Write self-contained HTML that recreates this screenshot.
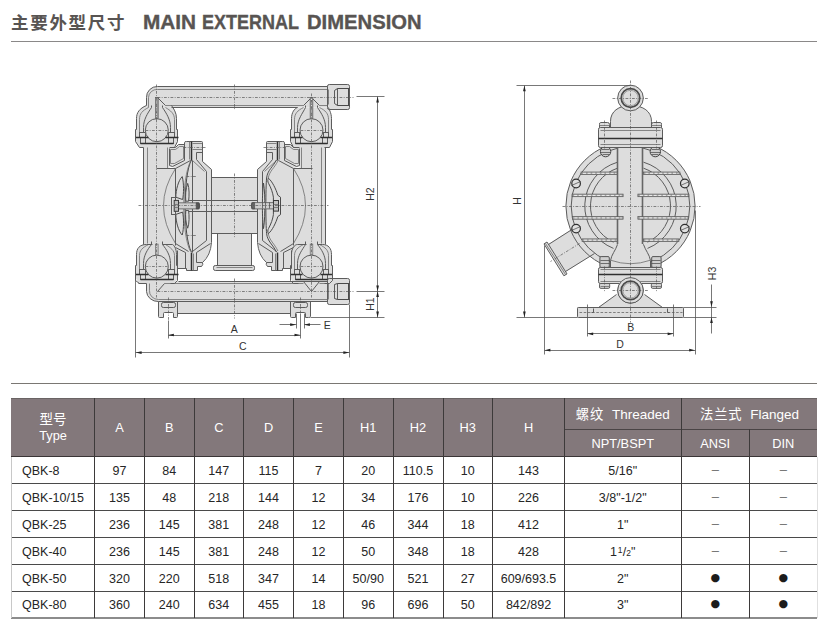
<!DOCTYPE html>
<html lang="zh-CN">
<head>
<meta charset="utf-8">
<title>主要外型尺寸 MAIN EXTERNAL DIMENSION</title>
<style>
html,body{margin:0;padding:0;background:#fff}
body{width:830px;height:634px;position:relative;overflow:hidden;font-family:"Liberation Sans","Noto Sans CJK SC",sans-serif}
.title{position:absolute;left:11px;top:8px;height:28px;line-height:28px;white-space:nowrap;color:#585452;font-weight:bold}
.title .zh{font-family:"Noto Sans CJK SC","Liberation Sans",sans-serif;font-size:17.5px;letter-spacing:1.7px;font-weight:bold;position:absolute;left:0;top:0}
.title .en{font-size:19.6px;position:absolute;top:0px;font-weight:bold;display:inline-block;transform-origin:0 50%;-webkit-text-stroke:0.35px #585452}
.rule{position:absolute;left:11px;width:806px;height:1px}
.tbl{position:absolute;left:0;top:0;width:830px;height:634px}
.hbg{position:absolute;left:11px;top:398px;width:806px;height:59px;background:#83787b}
.c{position:absolute;text-align:center;font-size:12.5px;white-space:nowrap;box-sizing:border-box}
.c.h{color:#fff;font-size:12.8px}
.c.d{color:#262626}
.c.first{text-align:left;padding-left:10.5px}
.two{position:absolute;left:0;right:0;top:13.4px;line-height:15.5px}
.two .zh{position:relative;top:-0.7px}
.zh{font-family:"Noto Sans CJK SC","Liberation Sans",sans-serif}
.c.h .zh{font-size:13.5px}
.c.h .hz{font-size:13.3px;letter-spacing:0.9px;margin-right:-0.9px;position:relative;top:0.6px}
.c.h .he{font-size:13.5px}
.ln{position:absolute}
.dot{font-size:11px;font-family:"DejaVu Sans",sans-serif;color:#1c1c1c;position:relative;top:-1.6px}
.dash{font-size:13px;color:#707070;position:relative;top:-0.8px}
.fr{font-size:8.5px;position:relative;top:-2.6px;margin-left:0.8px;margin-right:0.2px}
.fr2{font-size:8.5px;margin-right:0.2px}
svg{position:absolute;left:0;top:0}
svg text{font-family:"Liberation Sans",sans-serif;font-size:10.5px;fill:#333}
.f{fill:#dddddd;stroke:none}
.s{fill:none;stroke:#5c5c5c;stroke-width:1}
.fs2{fill:#dddddd;stroke:#5c5c5c;stroke-width:1}
.k{fill:none;stroke:#303030;stroke-width:1.5}
.t{fill:none;stroke:#6c6c6c;stroke-width:0.8}
.cl{fill:none;stroke:#555;stroke-width:0.7;stroke-dasharray:2.8 1.4 0.9 1.4}
.cl2{fill:none;stroke:#555;stroke-width:0.7;stroke-dasharray:2.8 1.4 0.9 1.4}
.fs3{fill:#dddddd;stroke:#4a4a4a;stroke-width:1}
.s3{fill:none;stroke:#4a4a4a;stroke-width:1}
.s2{fill:none;stroke:#666;stroke-width:1.6}
.t2{fill:none;stroke:#444;stroke-width:0.7}
.ds{fill:none;stroke:#666;stroke-width:0.8;stroke-dasharray:2.6 1.6}
.wd{fill:none;stroke:#e6e6e6;stroke-width:1;stroke-dasharray:1.6 1.4}
.dm{fill:none;stroke:#555;stroke-width:0.8}
.ar{fill:#222;stroke:none}
</style>
</head>
<body>
<div class="title"><span class="zh">主要外型尺寸</span><span class="en" style="left:131.6px;transform:scaleX(1.06)">MAIN</span> <span class="en" style="left:191.3px;transform:scaleX(0.918)">EXTERNAL</span> <span class="en" style="left:295.6px;transform:scaleX(1.032)">DIMENSION</span></div>
<div class="rule" style="top:41px;background:#8a8888"></div>
<div class="rule" style="top:383px;background:#7a7773"></div>
<svg width="830" height="634" viewBox="0 0 830 634"><path class="f" d="M146.3,108 V97.3 A10.7,10.7 0 0 1 157,86.6 H327.3 V86 Q327.3,84.3 329,84.3 H347.5 Q349.2,84.3 349.2,86 V108 Q349.2,109.6 347.5,109.6 H327.3 V107.4 H150 Z"/><path class="f" d="M146.7,282 V291 A11.6,10.6 0 0 0 158.3,301.6 H327.3 V304.2 H347.5 Q349.2,304.2 349.2,302.6 V280.5 Q349.2,278.9 347.5,278.9 H327.3 V281 H146.7 Z"/><path class="f" d="M158.5,301 H310.1 V316 Q310.1,317.2 309,317.2 H305 V312.8 H295.6 V317.2 H291.6 Q290.5,317.2 290.5,316 V313.3 H177.8 V316 Q177.8,317.2 176.7,317.2 H173.4 V312.8 H163.3 V317.2 H159.6 Q158.5,317.2 158.5,316 Z"/><path class="f" d="M217.5,233 H251.1 V265.1 H253 Q254.6,265.1 254.6,267 V268.5 Q254.6,270.2 253,270.2 H215.6 Q213.9,270.2 213.9,268.5 V267 Q213.9,265.1 215.6,265.1 H217.5 Z"/><path class="f" d="M211.3,177 H257.3 V233.7 H211.3 Z"/><path class="f" d="M143.8,140 H169.6 V168.3 H175.6 V245 H143.8 Z"/><path class="f" d="M169.3,147.5 H175.1 L178.4,144.4 H184.5 V142.6 Q184.5,141.1 186,141.1 H201.1 Q202.6,141.1 202.6,142.6 V161.5 L211.5,169 V242.2 Q210,255 202,262.5 Q203.6,264.6 201.6,266.8 H197.6 V270.4 H186 V268.3 H177.4 V256 H170 V243 H175.2 V168.3 L169.3,166 Z"/><g transform="matrix(-1 0 0 1 469 0)"><path class="f" d="M143.8,140 H169.6 V168.3 H175.6 V245 H143.8 Z"/><path class="f" d="M169.3,147.5 H175.1 L178.4,144.4 H184.5 V142.6 Q184.5,141.1 186,141.1 H201.1 Q202.6,141.1 202.6,142.6 V161.5 L211.5,169 V242.2 Q210,255 202,262.5 Q203.6,264.6 201.6,266.8 H197.6 V270.4 H186 V268.3 H177.4 V256 H170 V243 H175.2 V168.3 L169.3,166 Z"/></g><path class="f" d="M135.7,141.7 V129.4 H136.8 V118.2 C136.8,112.2 139.8,108.2 146.3,105 H171.2 C173.8,108.2 176.8,112.2 176.8,118.2 V129.4 H177.9 V141.7 L174.5,147.4 H139.1 Z"/><path class="f" d="M135.7,278.1 V265.8 H136.8 V254.6 C136.8,248.6 139.8,244.6 146.7,243.6 H172 C173.8,244.6 176.8,248.6 176.8,254.6 V265.8 H177.9 V278.1 L174.5,283.8 H139.1 Z"/><path class="f" d="M290.4,141.7 V129.4 H291.5 V118.2 C291.5,112.2 294.5,108.2 297.3,107.4 H328.3 C328.5,108.2 331.5,112.2 331.5,118.2 V129.4 H332.6 V141.7 L329.2,147.4 H293.8 Z"/><path class="f" d="M290.4,278.1 V265.8 H291.5 V254.6 C291.5,248.6 294.5,244.6 297,243.6 H322.3 C328.5,244.6 331.5,248.6 331.5,254.6 V265.8 H332.6 V278.1 L329.2,283.8 H293.8 Z"/><path class="s" d="M146.5 105.5V97.5A10.7 10.7 0 0 1 157.5 86.5H327.5"/><path class="t" d="M148.5 107.5V97.5A8.3 8.3 0 0 1 157.5 89.5H327.5"/><path class="s" d="M171.5 107.5H297.5"/><path class="t" d="M165.5 105.5H303.5M319.5 105.5H327.5"/><path class="s" d="M157.5 97.5L165.5 105.5M311.5 97.5L303.5 105.5M311.5 97.5L319.5 105.5"/><rect class="s" x="327.5" y="84.5" width="22" height="25" rx="1.8"/><path class="t" d="M328.5 89.5V104.5"/><path class="s" d="M334.5 90.5V103.5M337.5 88.5V105.5"/><path class="s3" d="M334.5 90.5L337.5 88.5H349.5M334.5 103.5L337.5 105.5H349.5"/><path class="s3" d="M348.5 88.5V105.5"/><rect class="s" x="327.5" y="278.5" width="22" height="26" rx="1.8"/><path class="t" d="M328.5 283.5V299.5"/><path class="s" d="M334.5 284.5V298.5M337.5 283.5V299.5"/><path class="s3" d="M334.5 284.5L337.5 283.5H349.5M334.5 298.5L337.5 299.5H349.5"/><path class="s3" d="M348.5 283.5V299.5"/><path class="s" d="M138.5 283.5H146.5V291.5A11.6 10.6 0 0 0 158.5 301.5H327.5"/><path class="t" d="M149.5 283.5V290.5A9 8.3 0 0 0 158.5 299.5H327.5"/><path class="s" d="M178.5 281.5H327.5"/><path class="t" d="M164.5 283.5H303.5M319.5 283.5H327.5"/><path class="s" d="M157.5 291.5L164.5 283.5M303.5 281.5L311.5 291.5L319.5 281.5"/><path class="s" d="M177.5 313.5H290.5"/><path class="s" d="M158.5 301.5V316.5Q158.5 317.5 159.5 317.5H163.5V313.5Q163.5 312.5 164.5 312.5H172.5Q173.5 312.5 173.5 313.5V317.5H176.5Q177.5 317.5 177.5 316.5V301.5"/><rect class="s" x="161.5" y="302.5" width="14" height="5" rx="1.8"/><path class="s" d="M290.5 301.5V316.5Q290.5 317.5 291.5 317.5H295.5V313.5Q295.5 312.5 296.5 312.5H304.5Q305.5 312.5 305.5 313.5V317.5H308.5Q310.5 317.5 310.5 316.5V301.5"/><rect class="s" x="293.5" y="302.5" width="14" height="5" rx="1.8"/><path class="s" d="M217.5 233.5V265.5M251.5 233.5V265.5"/><rect class="s" x="213.5" y="265.5" width="41" height="5" rx="1.8"/><path class="t" d="M216.5 267.5H252.5"/><path class="s" d="M211.5 177.5H257.5M211.5 233.5H257.5"/><path class="s" d="M188.5 200.5H257.5M188.5 211.5H257.5"/><path class="s" d="M143.5 147.5V244.5"/><path class="t" d="M147.5 147.5V243.5"/><path class="s" d="M169.5 148.5V165.5"/><path class="t" d="M167.5 147.5V168.5"/><path class="s" d="M156.5 168.5H175.5V245.5"/><path class="t" d="M175.5 168.5Q151.5 205.5 175.5 243.5"/><path class="s" d="M169.5 147.5H175.5L178.5 144.5H184.5"/><path class="t" d="M170.5 149.5H175.5L179.5 146.5H183.5V158.5L174.5 163.5H170.5Z"/><path class="s" d="M169.5 165.5L172.5 166.5L184.5 160.5"/><path class="s" d="M175.5 168.5L190.5 160.5"/><path class="s" d="M184.5 160.5V142.5Q184.5 141.5 186.5 141.5H201.5Q202.5 141.5 202.5 142.5V161.5L211.5 169.5V242.5Q210.5 255.5 202.5 262.5Q203.5 264.5 201.5 266.5H197.5V270.5H186.5V268.5H177.5"/><path class="k" d="M191.5 141.5V160.5"/><path class="t" d="M189.5 141.5V159.5"/><path class="t" d="M192.5 143.5H202.5M192.5 149.5H202.5"/><path class="s" d="M202.5 152.5H196.5V159.5L206.5 171.5V240.5L192.5 251.5"/><path class="s" d="M210.5 243.5L196.5 252.5V262.5H202.5"/><path class="t" d="M192.5 160.5L204.5 171.5"/><path class="s" d="M175.5 243.5L188.5 251.5M175.5 247.5L185.5 252.5V268.5M177.5 250.5V268.5"/><path class="k" d="M191.5 252.5V270.5"/><path class="t" d="M193.5 253.5V270.5"/><path class="cl2" d="M183.5 147.5H205.5"/><g transform="matrix(-1 0 0 1 469 0)"><path class="s" d="M143.5 147.5V244.5"/><path class="t" d="M147.5 147.5V243.5"/><path class="s" d="M169.5 148.5V165.5"/><path class="t" d="M167.5 147.5V168.5"/><path class="s" d="M156.5 168.5H175.5V245.5"/><path class="t" d="M175.5 168.5Q151.5 205.5 175.5 243.5"/><path class="s" d="M169.5 147.5H175.5L178.5 144.5H184.5"/><path class="t" d="M170.5 149.5H175.5L179.5 146.5H183.5V158.5L174.5 163.5H170.5Z"/><path class="s" d="M169.5 165.5L172.5 166.5L184.5 160.5"/><path class="s" d="M175.5 168.5L190.5 160.5"/><path class="s" d="M184.5 160.5V142.5Q184.5 141.5 186.5 141.5H201.5Q202.5 141.5 202.5 142.5V161.5L211.5 169.5V242.5Q210.5 255.5 202.5 262.5Q203.5 264.5 201.5 266.5H197.5V270.5H186.5V268.5H177.5"/><path class="k" d="M191.5 141.5V160.5"/><path class="t" d="M189.5 141.5V159.5"/><path class="t" d="M192.5 143.5H202.5M192.5 149.5H202.5"/><path class="s" d="M202.5 152.5H196.5V159.5L206.5 171.5V240.5L192.5 251.5"/><path class="s" d="M210.5 243.5L196.5 252.5V262.5H202.5"/><path class="t" d="M192.5 160.5L204.5 171.5"/><path class="s" d="M175.5 243.5L188.5 251.5M175.5 247.5L185.5 252.5V268.5M177.5 250.5V268.5"/><path class="k" d="M191.5 252.5V270.5"/><path class="t" d="M193.5 253.5V270.5"/><path class="cl2" d="M183.5 147.5H205.5"/></g><path class="s" d="M192.5 160.5V252.5"/><path class="s3" d="M191.4,160 C183,176 183,236 191.4,252"/><path class="t" d="M190.5 161.5C181.5 178.5 181.5 234.5 190.5 251.5"/><path class="fs3" d="M182.2,176.6 C178.3,180.5 175.9,190 175.8,197.2 L182.6,199.5 C183.8,194 184,183 182.2,176.6 Z"/><path class="fs3" d="M182.2,235 C178.3,231.1 175.9,221.6 175.8,214.4 L182.6,212.1 C183.8,217.6 184,228.6 182.2,235 Z"/><path class="fs3" d="M187.7,183.4 C189.4,188 189.3,196 188.6,201.2 L185.8,201.2 C185.3,196 185.6,188.4 187.7,183.4 Z"/><path class="fs3" d="M187.7,228.2 C189.4,223.6 189.3,215.6 188.6,210.4 L185.8,210.4 C185.3,215.6 185.6,223.2 187.7,228.2 Z"/><rect class="fs2" x="171.5" y="197.5" width="4" height="17" rx="0"/><rect x="178.5" y="202.8" width="21" height="6.1" rx="0.5" fill="#cfcfcf" stroke="#555" stroke-width="0.8"/><path d="M196.2,202.8 H198.5 Q201.2,205.8 198.5,208.9 H196.2 Z" fill="#555" stroke="#444" stroke-width="0.6"/><rect x="174.2" y="200.4" width="4.3" height="10.9" fill="#bdbdbd" stroke="#3a3a3a" stroke-width="1"/><path class="t" d="M174.5 204.5H178.5M174.5 207.5H178.5"/><path class="cl2" d="M186.5 176.5H196.5M186.5 235.5H196.5"/><path class="s3" d="M276.4,160 C273,167 267.5,170 266.6,178 C265.6,188 265.6,223 266.6,233.6 C267.5,241.6 273,244.6 276.4,252"/><path class="t" d="M277.9,161 C274.6,168 269.2,171 268.2,178.6 M268.2,233 C269.2,240.6 274.6,243.6 277.9,251"/><path class="fs3" d="M268.4,178.2 C272,181 276,189 277.8,195.2 L280.5,197.2 V214.6 L277.8,216.6 C276,222.8 272,230.8 268.4,233.6 C267.6,232 267.6,230 268.6,228.4 C271,224 272.8,219 273.4,214.6 V197.2 C272.8,192.8 271,187.8 268.6,183.4 C267.6,181.8 267.6,179.8 268.4,178.2 Z"/><path class="fs3" d="M263.5,183 C264.7,190 264.9,200 264.7,205.8 C264.9,211.6 264.7,221.6 263.5,228.6 C262.5,221 262.3,211 262.5,205.8 C262.3,200.6 262.5,190.6 263.5,183 Z"/><rect x="251.5" y="202.6" width="22" height="6.3" rx="0.5" fill="#cfcfcf" stroke="#555" stroke-width="0.8"/><path d="M254.6,202.6 H252.6 Q249.8,205.8 252.6,208.9 H254.6 Z" fill="#666" stroke="#444" stroke-width="0.6"/><path class="t2" d="M262.5 202.5V208.5M265.5 202.5V208.5M269.5 202.5V208.5"/><rect x="273.5" y="200.5" width="5" height="10.6" fill="#c4c4c4" stroke="#3a3a3a" stroke-width="1"/><path class="t" d="M273.5 204.5H278.5M273.5 207.5H278.5"/><path class="s" d="M135.5 137.5V129.5H136.5V118.5C136.5 112.5 139.5 108.5 146.5 105.5"/><path class="s" d="M177.5 137.5V129.5H176.5V118.5C176.5 112.5 173.5 108.5 171.5 105.5"/><path class="t" d="M139.5 132.5V119.5C139.5 113.5 142.5 110.5 148.5 107.5"/><path class="s" d="M143.5 132.5V127.5C143.5 119.5 147.5 113.5 151.5 107.5L151.5 105.5"/><rect class="s" x="139.5" y="132.5" width="6" height="5" rx="0"/><rect class="s" x="140.5" y="137.5" width="5" height="6" rx="0"/><path class="s" d="M135.5 137.5V141.5L139.5 147.5H143.5"/><path class="t" d="M174.5 132.5V119.5C174.5 113.5 170.5 110.5 165.5 107.5"/><path class="s" d="M170.5 132.5V127.5C170.5 119.5 166.5 113.5 162.5 107.5L162.5 105.5"/><rect class="s" x="168.5" y="132.5" width="6" height="5" rx="0"/><rect class="s" x="168.5" y="137.5" width="5" height="6" rx="0"/><path class="s" d="M177.5 137.5V141.5L174.5 147.5H170.5"/><circle class="fs2" cx="156.8" cy="130.2" r="11.5"/><path class="k" d="M135.5 137.5H148.5M165.5 137.5H178.5"/><path class="k" d="M140.5 143.5H173.5"/><rect x="155.4" y="97.4" width="2.8" height="21" fill="#9a9a9a" stroke="#555" stroke-width="0.6"/><path class="wd" d="M156.5 98.5V118.5"/><path class="s" d="M290.5 137.5V129.5H291.5V118.5C291.5 112.5 294.5 108.5 297.5 107.5"/><path class="s" d="M332.5 137.5V129.5H331.5V118.5C331.5 112.5 328.5 108.5 328.5 107.5"/><path class="t" d="M294.5 132.5V119.5C294.5 113.5 297.5 110.5 303.5 107.5"/><path class="s" d="M297.5 132.5V127.5C297.5 119.5 302.5 113.5 305.5 107.5L305.5 105.5"/><rect class="s" x="294.5" y="132.5" width="5" height="5" rx="0"/><rect class="s" x="295.5" y="137.5" width="5" height="6" rx="0"/><path class="s" d="M290.5 137.5V141.5L293.5 147.5H298.5"/><path class="t" d="M328.5 132.5V119.5C328.5 113.5 325.5 110.5 319.5 107.5"/><path class="s" d="M325.5 132.5V127.5C325.5 119.5 321.5 113.5 317.5 107.5L317.5 105.5"/><rect class="s" x="323.5" y="132.5" width="5" height="5" rx="0"/><rect class="s" x="322.5" y="137.5" width="5" height="6" rx="0"/><path class="s" d="M332.5 137.5V141.5L329.5 147.5H324.5"/><circle class="fs2" cx="311.5" cy="130.2" r="11.5"/><path class="k" d="M290.5 137.5H302.5M320.5 137.5H332.5"/><path class="k" d="M295.5 143.5H327.5"/><rect x="310.1" y="97.4" width="2.8" height="21" fill="#9a9a9a" stroke="#555" stroke-width="0.6"/><path class="wd" d="M311.5 98.5V118.5"/><path class="s" d="M135.5 274.5V265.5H136.5V254.5C136.5 248.5 139.5 244.5 146.5 244.5"/><path class="s" d="M177.5 274.5V265.5H176.5V254.5C176.5 248.5 173.5 244.5 172.5 244.5"/><path class="t" d="M139.5 269.5V255.5C139.5 250.5 142.5 247.5 148.5 244.5"/><path class="s" d="M143.5 269.5V263.5C143.5 255.5 147.5 249.5 151.5 244.5L151.5 241.5"/><rect class="s" x="139.5" y="269.5" width="6" height="5" rx="0"/><rect class="s" x="140.5" y="274.5" width="5" height="5" rx="0"/><path class="s" d="M135.5 274.5V280.5L139.5 283.5H143.5"/><path class="t" d="M174.5 269.5V255.5C174.5 250.5 170.5 247.5 165.5 244.5"/><path class="s" d="M170.5 269.5V263.5C170.5 255.5 166.5 249.5 162.5 244.5L162.5 241.5"/><rect class="s" x="168.5" y="269.5" width="6" height="5" rx="0"/><rect class="s" x="168.5" y="274.5" width="5" height="5" rx="0"/><path class="s" d="M177.5 274.5V280.5L174.5 283.5H170.5"/><circle class="fs2" cx="156.8" cy="266.6" r="11.5"/><path class="k" d="M135.5 274.5H148.5M165.5 274.5H178.5"/><path class="k" d="M140.5 279.5H173.5"/><rect x="155.5" y="244.1" width="2.6" height="10.8" fill="#cfcfcf" stroke="#666" stroke-width="0.7"/><path class="s" d="M290.5 274.5V265.5H291.5V254.5C291.5 248.5 294.5 244.5 297.5 244.5"/><path class="s" d="M332.5 274.5V265.5H331.5V254.5C331.5 248.5 328.5 244.5 322.5 244.5"/><path class="t" d="M294.5 269.5V255.5C294.5 250.5 297.5 247.5 303.5 244.5"/><path class="s" d="M297.5 269.5V263.5C297.5 255.5 302.5 249.5 305.5 244.5L305.5 241.5"/><rect class="s" x="294.5" y="269.5" width="5" height="5" rx="0"/><rect class="s" x="295.5" y="274.5" width="5" height="5" rx="0"/><path class="s" d="M290.5 274.5V280.5L293.5 283.5H298.5"/><path class="t" d="M328.5 269.5V255.5C328.5 250.5 325.5 247.5 319.5 244.5"/><path class="s" d="M325.5 269.5V263.5C325.5 255.5 321.5 249.5 317.5 244.5L317.5 241.5"/><rect class="s" x="323.5" y="269.5" width="5" height="5" rx="0"/><rect class="s" x="322.5" y="274.5" width="5" height="5" rx="0"/><path class="s" d="M332.5 274.5V280.5L329.5 283.5H324.5"/><circle class="fs2" cx="311.5" cy="266.6" r="11.5"/><path class="k" d="M290.5 274.5H302.5M320.5 274.5H332.5"/><path class="k" d="M295.5 279.5H327.5"/><rect x="310.2" y="244.1" width="2.6" height="10.8" fill="#cfcfcf" stroke="#666" stroke-width="0.7"/><path class="s" d="M146.5 244.5H152.5M162.5 244.5H172.5M297.5 244.5H306.5M317.5 244.5H322.5"/><path class="cl" d="M138.5 205.5L328.5 205.5"/><path class="cl" d="M234.5 84.5V110.5M234.5 173.5V238.5M234.5 278.5V318.5"/><path class="cl" d="M157.5 97.5H353.5M157.5 291.5H353.5"/><path class="cl" d="M156.5 84.5V119.5M156.5 119.5V297.5"/><path class="cl" d="M311.5 93.5V297.5"/><path class="cl2" d="M145.5 130.5H167.5"/><path class="cl2" d="M145.5 266.5H167.5"/><path class="cl2" d="M300.5 130.5H322.5"/><path class="cl2" d="M300.5 266.5H322.5"/><path class="cl2" d="M168.5 297.5V320.5M300.5 297.5V313.5"/><path class="dm" d="M356.5 96.5H384.5M356.5 291.5H384.5M310.5 317.5H384.5"/><path class="dm" d="M377.5 96.5V317.5"/><polygon class="ar" points="377.6,96.6 376.25,102.4 378.95,102.4"/><polygon class="ar" points="377.6,291.2 376.25,285.4 378.95,285.4"/><polygon class="ar" points="377.6,291.2 376.25,297 378.95,297"/><polygon class="ar" points="377.6,317.4 376.25,311.6 378.95,311.6"/><text x="374.1" y="194" text-anchor="middle" transform="rotate(-90 374.1 194)">H2</text><text x="374.1" y="304" text-anchor="middle" transform="rotate(-90 374.1 304)">H1</text><path class="dm" d="M168.5 320.5V338.5M300.5 313.5V338.5M168.5 335.5H300.5"/><polygon class="ar" points="168.1,335 173.9,333.65 173.9,336.35"/><polygon class="ar" points="300.3,335 294.5,333.65 294.5,336.35"/><text x="234.3" y="333" text-anchor="middle">A</text><path class="dm" d="M135.5 268.5V357.5M349.5 304.5V357.5M135.5 352.5H349.5"/><polygon class="ar" points="135.8,352.6 141.6,351.25 141.6,353.95"/><polygon class="ar" points="349.2,352.6 343.4,351.25 343.4,353.95"/><text x="242.8" y="349.7" text-anchor="middle">C</text><path class="dm" d="M296.5 313.5V328.5M304.5 313.5V328.5M279.5 324.5H296.5M304.5 324.5H320.5"/><polygon class="ar" points="296,324.7 290.2,323.35 290.2,326.05"/><polygon class="ar" points="304.1,324.7 309.9,323.35 309.9,326.05"/><text x="327.2" y="328.8" text-anchor="middle">E</text><polygon class="f" points="575.1,227.3 548.3,244.0 565.7,271.8 592.5,255.1"/><polygon class="f" points="547.0,242.0 544.0,243.9 563.9,275.8 567.0,273.9"/><circle class="f" cx="630.5" cy="206" r="64.6"/><path class="f" d="M610,129 V121.5 C610,111.5 618,105.6 630.5,105.6 C643,105.6 651,111.5 651,121.5 V129 Z"/><circle class="f" cx="630.5" cy="98" r="12.9"/><rect class="f" x="598.4" y="127.8" width="63.8" height="19.3" rx="1.8"/><rect class="f" x="598.6" y="267.3" width="63.8" height="16.6" rx="1.8"/><rect class="f" x="599.2" y="122.5" width="10.2" height="6" rx="1.5"/><rect class="f" x="599.2" y="283" width="10.2" height="5.4" rx="1.5"/><rect class="f" x="599.6" y="256.5" width="9.4" height="11" rx="1.2"/><rect class="f" x="651.4" y="122.5" width="10.2" height="6" rx="1.5"/><rect class="f" x="651.4" y="283" width="10.2" height="5.4" rx="1.5"/><rect class="f" x="651.8" y="256.5" width="9.4" height="11" rx="1.2"/><circle class="f" cx="605.6" cy="151.6" r="5.4"/><circle class="f" cx="655.3" cy="151.6" r="5.4"/><circle class="f" cx="630.5" cy="290.4" r="12.7"/><path class="f" d="M598.6,307.2 L617.5,294 H643.5 L662.4,307.2 Z"/><rect class="f" x="577.3" y="307" width="106.4" height="10.2" rx="0.8"/><path class="s" d="M573.5 228.5L548.5 244.5"/><path class="s" d="M594.5 253.5L565.5 271.5"/><polygon class="s" points="547.0,242.0 544.0,243.9 563.9,275.8 567.0,273.9"/><path class="t" d="M545.5 243.5L565.5 274.5"/><path class="cl2" d="M579.5 243.5L550.5 261.5"/><circle class="s" cx="630.5" cy="206" r="64.6"/><circle class="s" cx="630.5" cy="206" r="59.3"/><path class="s" d="M617.5,162.188 A45.7,45.7 0 0 0 613.5,248.42"/><path class="s" d="M643.5,162.188 A45.7,45.7 0 0 1 647.5,248.42"/><path class="s" d="M617.5,168.171 A40,40 0 0 0 613.5,242.208"/><path class="s" d="M643.5,168.171 A40,40 0 0 1 647.5,242.208"/><rect class="f" x="617.4" y="147" width="25.6" height="97.3" rx="0"/><path class="s2" d="M617.5 147.5V244.5M642.5 147.5V244.5"/><path class="t" d="M617.5 244.5H643.5"/><rect x="581.031" y="172" width="36.5692" height="2.6" fill="#a8a8a8" stroke="#555" stroke-width="0.7"/><path d="M583.031,173.3 H616.1" stroke="#f2f2f2" stroke-width="1" stroke-dasharray="3 1.6" fill="none"/><rect x="643.4" y="172" width="36.5692" height="2.6" fill="#a8a8a8" stroke="#555" stroke-width="0.7"/><path d="M645.4,173.3 H678.469" stroke="#f2f2f2" stroke-width="1" stroke-dasharray="3 1.6" fill="none"/><rect x="572.155" y="194.1" width="50.9449" height="2.6" fill="#a8a8a8" stroke="#555" stroke-width="0.7"/><path d="M574.155,195.4 H621.6" stroke="#f2f2f2" stroke-width="1" stroke-dasharray="3 1.6" fill="none"/><rect x="637.9" y="194.1" width="50.9449" height="2.6" fill="#a8a8a8" stroke="#555" stroke-width="0.7"/><path d="M639.9,195.4 H687.345" stroke="#f2f2f2" stroke-width="1" stroke-dasharray="3 1.6" fill="none"/><rect x="572.406" y="216.6" width="50.6937" height="2.6" fill="#a8a8a8" stroke="#555" stroke-width="0.7"/><path d="M574.406,217.9 H621.6" stroke="#f2f2f2" stroke-width="1" stroke-dasharray="3 1.6" fill="none"/><rect x="637.9" y="216.6" width="50.6937" height="2.6" fill="#a8a8a8" stroke="#555" stroke-width="0.7"/><path d="M639.9,217.9 H687.094" stroke="#f2f2f2" stroke-width="1" stroke-dasharray="3 1.6" fill="none"/><rect x="582.056" y="238.9" width="35.5443" height="2.6" fill="#a8a8a8" stroke="#555" stroke-width="0.7"/><path d="M584.056,240.2 H616.1" stroke="#f2f2f2" stroke-width="1" stroke-dasharray="3 1.6" fill="none"/><rect x="643.4" y="238.9" width="35.5443" height="2.6" fill="#a8a8a8" stroke="#555" stroke-width="0.7"/><path d="M645.4,240.2 H677.444" stroke="#f2f2f2" stroke-width="1" stroke-dasharray="3 1.6" fill="none"/><path class="f" d="M617.4,244 C615.5,250 611.2,254 610.8,260.5 V267.5 H650.2 V260.5 C649.8,254 645.5,250 643,244 Z"/><path class="s" d="M617.5 244.5C615.5 250.5 611.5 254.5 610.5 260.5V267.5M643.5 244.5C645.5 250.5 649.5 254.5 650.5 260.5V267.5"/><path class="t" d="M610.9,260.3 A59.3,59.3 0 0 0 650.1,260.3"/><circle cx="576.1" cy="183.5" r="4.3" fill="#e0e0e0" stroke="#2e2e2e" stroke-width="1.2"/><path class="t2" d="M571.5 185.5L580.5 181.5"/><circle cx="684.8" cy="183.5" r="4.3" fill="#e0e0e0" stroke="#2e2e2e" stroke-width="1.2"/><path class="t2" d="M680.5 185.5L689.5 181.5"/><circle cx="576.1" cy="228.6" r="4.3" fill="#e0e0e0" stroke="#2e2e2e" stroke-width="1.2"/><path class="t2" d="M571.5 230.5L580.5 226.5"/><circle cx="684.8" cy="228.6" r="4.3" fill="#e0e0e0" stroke="#2e2e2e" stroke-width="1.2"/><path class="t2" d="M680.5 230.5L689.5 226.5"/><path class="s" d="M610.5 128.5V121.5C610.5 111.5 618.5 105.5 630.5 105.5C643.5 105.5 651.5 111.5 651.5 121.5V128.5"/><circle class="fs2" cx="630.5" cy="98" r="12.8"/><circle cx="630.5" cy="98" r="9.3" fill="none" stroke="#4a4a4a" stroke-width="1.7"/><circle cx="630.5" cy="98" r="7.7" fill="none" stroke="#777" stroke-width="0.6"/><circle class="fs2" cx="630.5" cy="290.4" r="12.8"/><circle cx="630.5" cy="290.4" r="9.3" fill="none" stroke="#4a4a4a" stroke-width="1.7"/><circle cx="630.5" cy="290.4" r="7.7" fill="none" stroke="#777" stroke-width="0.6"/><circle cx="605.6" cy="151.6" r="5.2" fill="#cfcfcf" stroke="#444" stroke-width="1"/><path class="t2" d="M601.5 149.5H609.5M600.5 152.5H610.5M602.5 154.5H609.5"/><circle cx="655.3" cy="151.6" r="5.2" fill="#cfcfcf" stroke="#444" stroke-width="1"/><path class="t2" d="M651.5 149.5H659.5M650.5 152.5H660.5M651.5 154.5H658.5"/><rect class="fs2" x="598.5" y="127.5" width="64" height="20" rx="1.8"/><path class="t" d="M600.5 130.5H660.5M600.5 144.5H660.5"/><path class="k" d="M598.5 138.5H662.5"/><path class="s" d="M599.5 127.5V124.5Q599.5 122.5 600.5 122.5H607.5Q609.5 122.5 609.5 124.5V127.5"/><path class="t" d="M599.5 125.5H609.5"/><path class="s" d="M651.5 127.5V124.5Q651.5 122.5 653.5 122.5H660.5Q661.5 122.5 661.5 124.5V127.5"/><path class="t" d="M651.5 125.5H661.5"/><rect x="599.9" y="256.6" width="9.4" height="10.8" rx="1.2" fill="#cfcfcf" stroke="#444" stroke-width="0.9"/><path class="t2" d="M600.5 260.5H609.5M600.5 263.5H609.5"/><rect x="599.5" y="283.4" width="10.2" height="5" rx="1.4" fill="#d2d2d2" stroke="#555" stroke-width="0.9"/><path class="t" d="M600.5 286.5H609.5"/><rect x="651.7" y="256.6" width="9.4" height="10.8" rx="1.2" fill="#cfcfcf" stroke="#444" stroke-width="0.9"/><path class="t2" d="M651.5 260.5H660.5M651.5 263.5H660.5"/><rect x="651.3" y="283.4" width="10.2" height="5" rx="1.4" fill="#d2d2d2" stroke="#555" stroke-width="0.9"/><path class="t" d="M651.5 286.5H661.5"/><rect class="fs2" x="598.5" y="267.5" width="64" height="16" rx="1.8"/><path class="t" d="M600.5 269.5H660.5M600.5 281.5H660.5"/><path class="k" d="M598.5 274.5H662.5"/><path class="s" d="M598.5 307.5L616.5 294.5M662.5 307.5L644.5 294.5"/><rect class="s" x="577.5" y="307.5" width="106" height="10" rx="0.8"/><path class="ds" d="M579.5 312.5H682.5"/><path class="s" d="M593.5 308.5V312.5H591.5M667.5 308.5V312.5H669.5"/><circle class="fs2" cx="630.5" cy="290.4" r="12.8"/><circle cx="630.5" cy="290.4" r="9.3" fill="none" stroke="#4a4a4a" stroke-width="1.7"/><circle cx="630.5" cy="290.4" r="7.7" fill="none" stroke="#777" stroke-width="0.6"/><path class="cl" d="M630.5 80.5V322.5"/><path class="cl" d="M562.5 206.5H700.5"/><path class="cl2" d="M612.5 98.5H648.5M612.5 290.5H648.5"/><path class="cl2" d="M604.5 120.5V148.5M656.5 120.5V148.5M604.5 266.5V291.5M656.5 266.5V291.5"/><path class="dm" d="M516.5 85.5H630.5M516.5 317.5H577.5M524.5 85.5V317.5"/><polygon class="ar" points="524.4,85.5 523.05,91.3 525.75,91.3"/><polygon class="ar" points="524.4,317.2 523.05,311.4 525.75,311.4"/><text x="520.5" y="201" text-anchor="middle" transform="rotate(-90 520.5 201)" font-size="10">H</text><path class="dm" d="M587.5 304.5V336.5M673.5 304.5V336.5M587.5 333.5H673.5"/><polygon class="ar" points="587.4,333.8 593.2,332.45 593.2,335.15"/><polygon class="ar" points="673.4,333.8 667.6,332.45 667.6,335.15"/><text x="630.8" y="331.4" text-anchor="middle">B</text><path class="dm" d="M544.5 245.5V354.5M695.5 210.5V354.5M544.5 350.5H695.5"/><polygon class="ar" points="544.6,350.2 550.4,348.85 550.4,351.55"/><polygon class="ar" points="695,350.2 689.2,348.85 689.2,351.55"/><text x="620" y="348" text-anchor="middle">D</text><path class="dm" d="M683.5 307.5H716.5M683.5 317.5H716.5M711.5 284.5V333.5"/><polygon class="ar" points="711.5,307 710.15,301.2 712.85,301.2"/><polygon class="ar" points="711.5,317.2 710.15,323 712.85,323"/><text x="715.6" y="273.4" text-anchor="middle" transform="rotate(-90 715.6 273.4)">H3</text></svg>
<div class="tbl">
<div class="hbg"></div>
<div class="c h" style="left:11.5px;top:398.5px;width:83px;height:58px"><div class="two"><span class="zh">型号</span><br>Type</div></div>
<div class="c h" style="left:94.5px;top:398.5px;width:50px;height:58px;line-height:58px">A</div>
<div class="c h" style="left:144.5px;top:398.5px;width:49.5px;height:58px;line-height:58px">B</div>
<div class="c h" style="left:194px;top:398.5px;width:49.5px;height:58px;line-height:58px">C</div>
<div class="c h" style="left:243.5px;top:398.5px;width:50px;height:58px;line-height:58px">D</div>
<div class="c h" style="left:293.5px;top:398.5px;width:50px;height:58px;line-height:58px">E</div>
<div class="c h" style="left:343.5px;top:398.5px;width:49.5px;height:58px;line-height:58px">H1</div>
<div class="c h" style="left:393px;top:398.5px;width:50px;height:58px;line-height:58px">H2</div>
<div class="c h" style="left:443px;top:398.5px;width:49.5px;height:58px;line-height:58px">H3</div>
<div class="c h" style="left:492.5px;top:398.5px;width:72px;height:58px;line-height:58px">H</div>
<div class="c h" style="left:564.5px;top:398.5px;width:116.5px;height:31px;line-height:29.6px"><span class="zh hz">螺纹</span><span class="he" style="margin-left:8.6px">Threaded</span></div>
<div class="c h" style="left:681px;top:398.5px;width:136px;height:31px;line-height:29.6px"><span class="zh hz" style="margin-left:1px">法兰式</span><span class="he" style="margin-left:8.6px">Flanged</span></div>
<div class="c h" style="left:564.5px;top:429.5px;width:116.5px;height:27px;line-height:28px">NPT/BSPT</div>
<div class="c h" style="left:681px;top:429.5px;width:68.5px;height:27px;line-height:28px">ANSI</div>
<div class="c h" style="left:749.5px;top:429.5px;width:67.5px;height:27px;line-height:28px">DIN</div>
<div class="c d first" style="left:11.5px;top:456.5px;width:83px;height:27px;line-height:28px">QBK-8</div>
<div class="c d" style="left:94.5px;top:456.5px;width:50px;height:27px;line-height:28px">97</div>
<div class="c d" style="left:144.5px;top:456.5px;width:49.5px;height:27px;line-height:28px">84</div>
<div class="c d" style="left:194px;top:456.5px;width:49.5px;height:27px;line-height:28px">147</div>
<div class="c d" style="left:243.5px;top:456.5px;width:50px;height:27px;line-height:28px">115</div>
<div class="c d" style="left:293.5px;top:456.5px;width:50px;height:27px;line-height:28px">7</div>
<div class="c d" style="left:343.5px;top:456.5px;width:49.5px;height:27px;line-height:28px">20</div>
<div class="c d" style="left:393px;top:456.5px;width:50px;height:27px;line-height:28px">110.5</div>
<div class="c d" style="left:443px;top:456.5px;width:49.5px;height:27px;line-height:28px">10</div>
<div class="c d" style="left:492.5px;top:456.5px;width:72px;height:27px;line-height:28px">143</div>
<div class="c d" style="left:564.5px;top:456.5px;width:116.5px;height:27px;line-height:28px">5/16"</div>
<div class="c d" style="left:681px;top:456.5px;width:68.5px;height:27px;line-height:28px"><span class="dash">–</span></div>
<div class="c d" style="left:749.5px;top:456.5px;width:67.5px;height:27px;line-height:28px"><span class="dash">–</span></div>
<div class="c d first" style="left:11.5px;top:483.5px;width:83px;height:27px;line-height:28px">QBK-10/15</div>
<div class="c d" style="left:94.5px;top:483.5px;width:50px;height:27px;line-height:28px">135</div>
<div class="c d" style="left:144.5px;top:483.5px;width:49.5px;height:27px;line-height:28px">48</div>
<div class="c d" style="left:194px;top:483.5px;width:49.5px;height:27px;line-height:28px">218</div>
<div class="c d" style="left:243.5px;top:483.5px;width:50px;height:27px;line-height:28px">144</div>
<div class="c d" style="left:293.5px;top:483.5px;width:50px;height:27px;line-height:28px">12</div>
<div class="c d" style="left:343.5px;top:483.5px;width:49.5px;height:27px;line-height:28px">34</div>
<div class="c d" style="left:393px;top:483.5px;width:50px;height:27px;line-height:28px">176</div>
<div class="c d" style="left:443px;top:483.5px;width:49.5px;height:27px;line-height:28px">10</div>
<div class="c d" style="left:492.5px;top:483.5px;width:72px;height:27px;line-height:28px">226</div>
<div class="c d" style="left:564.5px;top:483.5px;width:116.5px;height:27px;line-height:28px">3/8"-1/2"</div>
<div class="c d" style="left:681px;top:483.5px;width:68.5px;height:27px;line-height:28px"><span class="dash">–</span></div>
<div class="c d" style="left:749.5px;top:483.5px;width:67.5px;height:27px;line-height:28px"><span class="dash">–</span></div>
<div class="c d first" style="left:11.5px;top:510.5px;width:83px;height:27px;line-height:28px">QBK-25</div>
<div class="c d" style="left:94.5px;top:510.5px;width:50px;height:27px;line-height:28px">236</div>
<div class="c d" style="left:144.5px;top:510.5px;width:49.5px;height:27px;line-height:28px">145</div>
<div class="c d" style="left:194px;top:510.5px;width:49.5px;height:27px;line-height:28px">381</div>
<div class="c d" style="left:243.5px;top:510.5px;width:50px;height:27px;line-height:28px">248</div>
<div class="c d" style="left:293.5px;top:510.5px;width:50px;height:27px;line-height:28px">12</div>
<div class="c d" style="left:343.5px;top:510.5px;width:49.5px;height:27px;line-height:28px">46</div>
<div class="c d" style="left:393px;top:510.5px;width:50px;height:27px;line-height:28px">344</div>
<div class="c d" style="left:443px;top:510.5px;width:49.5px;height:27px;line-height:28px">18</div>
<div class="c d" style="left:492.5px;top:510.5px;width:72px;height:27px;line-height:28px">412</div>
<div class="c d" style="left:564.5px;top:510.5px;width:116.5px;height:27px;line-height:28px">1"</div>
<div class="c d" style="left:681px;top:510.5px;width:68.5px;height:27px;line-height:28px"><span class="dash">–</span></div>
<div class="c d" style="left:749.5px;top:510.5px;width:67.5px;height:27px;line-height:28px"><span class="dash">–</span></div>
<div class="c d first" style="left:11.5px;top:537.5px;width:83px;height:27px;line-height:28px">QBK-40</div>
<div class="c d" style="left:94.5px;top:537.5px;width:50px;height:27px;line-height:28px">236</div>
<div class="c d" style="left:144.5px;top:537.5px;width:49.5px;height:27px;line-height:28px">145</div>
<div class="c d" style="left:194px;top:537.5px;width:49.5px;height:27px;line-height:28px">381</div>
<div class="c d" style="left:243.5px;top:537.5px;width:50px;height:27px;line-height:28px">248</div>
<div class="c d" style="left:293.5px;top:537.5px;width:50px;height:27px;line-height:28px">12</div>
<div class="c d" style="left:343.5px;top:537.5px;width:49.5px;height:27px;line-height:28px">50</div>
<div class="c d" style="left:393px;top:537.5px;width:50px;height:27px;line-height:28px">348</div>
<div class="c d" style="left:443px;top:537.5px;width:49.5px;height:27px;line-height:28px">18</div>
<div class="c d" style="left:492.5px;top:537.5px;width:72px;height:27px;line-height:28px">428</div>
<div class="c d" style="left:564.5px;top:537.5px;width:116.5px;height:27px;line-height:28px">1<span class="fr">1</span>/<span class="fr2">2</span>"</div>
<div class="c d" style="left:681px;top:537.5px;width:68.5px;height:27px;line-height:28px"><span class="dash">–</span></div>
<div class="c d" style="left:749.5px;top:537.5px;width:67.5px;height:27px;line-height:28px"><span class="dash">–</span></div>
<div class="c d first" style="left:11.5px;top:564.5px;width:83px;height:27px;line-height:28px">QBK-50</div>
<div class="c d" style="left:94.5px;top:564.5px;width:50px;height:27px;line-height:28px">320</div>
<div class="c d" style="left:144.5px;top:564.5px;width:49.5px;height:27px;line-height:28px">220</div>
<div class="c d" style="left:194px;top:564.5px;width:49.5px;height:27px;line-height:28px">518</div>
<div class="c d" style="left:243.5px;top:564.5px;width:50px;height:27px;line-height:28px">347</div>
<div class="c d" style="left:293.5px;top:564.5px;width:50px;height:27px;line-height:28px">14</div>
<div class="c d" style="left:343.5px;top:564.5px;width:49.5px;height:27px;line-height:28px">50/90</div>
<div class="c d" style="left:393px;top:564.5px;width:50px;height:27px;line-height:28px">521</div>
<div class="c d" style="left:443px;top:564.5px;width:49.5px;height:27px;line-height:28px">27</div>
<div class="c d" style="left:492.5px;top:564.5px;width:72px;height:27px;line-height:28px">609/693.5</div>
<div class="c d" style="left:564.5px;top:564.5px;width:116.5px;height:27px;line-height:28px">2"</div>
<div class="c d" style="left:681px;top:564.5px;width:68.5px;height:27px;line-height:28px"><span class="dot">●</span></div>
<div class="c d" style="left:749.5px;top:564.5px;width:67.5px;height:27px;line-height:28px"><span class="dot">●</span></div>
<div class="c d first" style="left:11.5px;top:591.5px;width:83px;height:26.5px;line-height:27.5px">QBK-80</div>
<div class="c d" style="left:94.5px;top:591.5px;width:50px;height:26.5px;line-height:27.5px">360</div>
<div class="c d" style="left:144.5px;top:591.5px;width:49.5px;height:26.5px;line-height:27.5px">240</div>
<div class="c d" style="left:194px;top:591.5px;width:49.5px;height:26.5px;line-height:27.5px">634</div>
<div class="c d" style="left:243.5px;top:591.5px;width:50px;height:26.5px;line-height:27.5px">455</div>
<div class="c d" style="left:293.5px;top:591.5px;width:50px;height:26.5px;line-height:27.5px">18</div>
<div class="c d" style="left:343.5px;top:591.5px;width:49.5px;height:26.5px;line-height:27.5px">96</div>
<div class="c d" style="left:393px;top:591.5px;width:50px;height:26.5px;line-height:27.5px">696</div>
<div class="c d" style="left:443px;top:591.5px;width:49.5px;height:26.5px;line-height:27.5px">50</div>
<div class="c d" style="left:492.5px;top:591.5px;width:72px;height:26.5px;line-height:27.5px">842/892</div>
<div class="c d" style="left:564.5px;top:591.5px;width:116.5px;height:26.5px;line-height:27.5px">3"</div>
<div class="c d" style="left:681px;top:591.5px;width:68.5px;height:26.5px;line-height:27.5px"><span class="dot">●</span></div>
<div class="c d" style="left:749.5px;top:591.5px;width:67.5px;height:26.5px;line-height:27.5px"><span class="dot">●</span></div>
<div class="ln" style="left:11px;top:398px;width:806px;height:1px;background:#6a6464"></div>
<div class="ln" style="left:11px;top:456px;width:806px;height:1px;background:#3a3536"></div>
<div class="ln" style="left:11px;top:483px;width:806px;height:1px;background:#4a4a4a"></div>
<div class="ln" style="left:11px;top:510px;width:806px;height:1px;background:#4a4a4a"></div>
<div class="ln" style="left:11px;top:537px;width:806px;height:1px;background:#4a4a4a"></div>
<div class="ln" style="left:11px;top:564px;width:806px;height:1px;background:#4a4a4a"></div>
<div class="ln" style="left:11px;top:591px;width:806px;height:1px;background:#4a4a4a"></div>
<div class="ln" style="left:11px;top:617px;width:806px;height:2px;background:#8c8c8c"></div>
<div class="ln" style="left:565px;top:429px;width:252px;height:1px;background:#4a4445"></div>
<div class="ln" style="left:94px;top:398px;width:1px;height:220px;background:#3d3a3a"></div>
<div class="ln" style="left:144px;top:398px;width:1px;height:220px;background:#3d3a3a"></div>
<div class="ln" style="left:194px;top:398px;width:1px;height:220px;background:#3d3a3a"></div>
<div class="ln" style="left:243px;top:398px;width:1px;height:220px;background:#3d3a3a"></div>
<div class="ln" style="left:293px;top:398px;width:1px;height:220px;background:#3d3a3a"></div>
<div class="ln" style="left:343px;top:398px;width:1px;height:220px;background:#3d3a3a"></div>
<div class="ln" style="left:393px;top:398px;width:1px;height:220px;background:#3d3a3a"></div>
<div class="ln" style="left:443px;top:398px;width:1px;height:220px;background:#3d3a3a"></div>
<div class="ln" style="left:492px;top:398px;width:1px;height:220px;background:#3d3a3a"></div>
<div class="ln" style="left:564px;top:398px;width:1px;height:220px;background:#3d3a3a"></div>
<div class="ln" style="left:681px;top:398px;width:1px;height:220px;background:#3d3a3a"></div>
<div class="ln" style="left:749px;top:429px;width:1px;height:189px;background:#3d3a3a"></div>
<div class="ln" style="left:11px;top:457px;width:1px;height:161px;background:#c8c8c8"></div>
<div class="ln" style="left:817px;top:457px;width:1px;height:161px;background:#e0e0e0"></div>
</div>
</body>
</html>
